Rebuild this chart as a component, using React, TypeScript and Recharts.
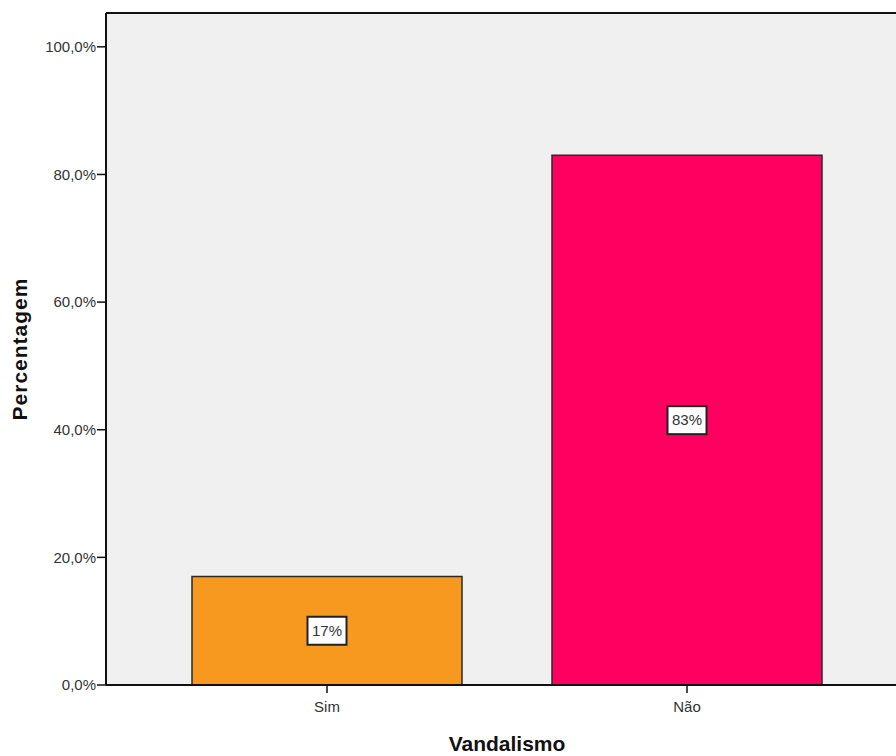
import React from "react";
import {
  BarChart,
  Bar,
  XAxis,
  YAxis,
  CartesianGrid,
  Cell,
  LabelList,
  Label,
  ReferenceLine,
} from "recharts";

const categories = ["Sim", "Não"];
const percentages = [17, 83];
const barLabels = ["17%", "83%"];
const barColors = ["#f7991f", "#ff0060"];
const yTicks = [0, 20, 40, 60, 80, 100];
const yMax = 105.3;

const data = categories.map((name, i) => ({
  name,
  value: percentages[i],
  label: barLabels[i],
}));

const FONT = "'Liberation Sans', Arial, sans-serif";

const formatPct = (v: number) => `${v.toFixed(1).replace(".", ",")}%`;

const BoxLabel = (props: any) => {
  const { x, y, width, height, value } = props;
  const cx = x + width / 2;
  const cy = y + height / 2;
  const w = 39;
  const h = 28;
  return (
    <g>
      <rect
        x={cx - w / 2}
        y={cy - h / 2}
        width={w}
        height={h}
        fill="#fff"
        stroke="#222"
        strokeWidth={2}
      />
      <text
        x={cx}
        y={cy + 5}
        textAnchor="middle"
        fontFamily={FONT}
        fontSize={15}
        fill="#333"
      >
        {value}
      </text>
    </g>
  );
};

const YTitle = (props: any) => {
  const vb = props.viewBox;
  const cy = vb.y + vb.height / 2;
  return (
    <text
      x={19}
      y={cy}
      transform={`rotate(-90, 19, ${cy})`}
      textAnchor="middle"
      dominantBaseline="central"
      fontFamily={FONT}
      fontWeight="bold"
      fontSize={21}
      letterSpacing={1}
      fill="#111"
    >
      Percentagem
    </text>
  );
};

export default function App() {
  return (
    <div
      style={{
        position: "absolute",
        left: 0,
        top: 0,
        width: 896,
        height: 756,
        overflow: "hidden",
        background: "#fff",
      }}
    >
      <BarChart
        width={908}
        height={756}
        data={data}
        margin={{ top: 13, right: 0, left: 0, bottom: 0 }}
        barCategoryGap="12.5%"
      >
        <CartesianGrid
          fill="#f0f0f0"
          horizontal={false}
          vertical={false}
          stroke="none"
        />
        <XAxis
          dataKey="name"
          height={71}
          padding={{ left: 41, right: 41 }}
          axisLine={{ stroke: "#111", strokeWidth: 2 }}
          tickLine={{ stroke: "#111", strokeWidth: 1.5 }}
          tickSize={8}
          tickMargin={8}
          tick={{ fontFamily: FONT, fontSize: 15, fill: "#333" }}
        >
          <Label
            value="Vandalismo"
            position="insideBottom"
            offset={5}
            style={{
              fontFamily: FONT,
              fontWeight: "bold",
              fontSize: 21,
              fill: "#111",
            }}
          />
        </XAxis>
        <YAxis
          width={106}
          domain={[0, yMax]}
          ticks={yTicks}
          tickFormatter={formatPct}
          axisLine={{ stroke: "#111", strokeWidth: 2 }}
          tickLine={{ stroke: "#111", strokeWidth: 1.5 }}
          tickSize={9}
          tickMargin={1}
          tick={{ fontFamily: FONT, fontSize: 15, fill: "#333" }}
        >
          <Label content={<YTitle />} />
        </YAxis>
        <ReferenceLine y={yMax} stroke="#111" strokeWidth={2} />
        <Bar
          dataKey="value"
          stroke="#2a2a2a"
          strokeWidth={1.5}
          isAnimationActive={false}
        >
          {data.map((d, i) => (
            <Cell key={d.name} fill={barColors[i]} />
          ))}
          <LabelList dataKey="label" content={<BoxLabel />} />
        </Bar>
      </BarChart>
    </div>
  );
}
